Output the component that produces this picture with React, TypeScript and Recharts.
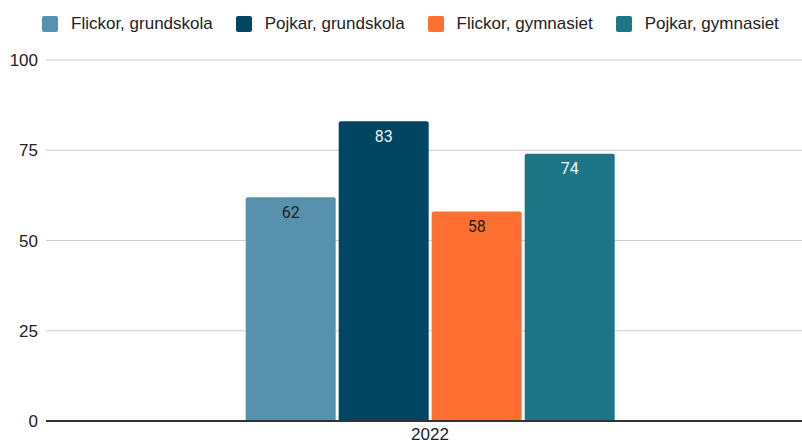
import React from "react";
import { BarChart, Bar, XAxis, YAxis, CartesianGrid, LabelList } from "recharts";

const categories = ["2022"];
const seriesNames = ["Flickor, grundskola", "Pojkar, grundskola", "Flickor, gymnasiet", "Pojkar, gymnasiet"];
const flickorGrundskola = [62];
const pojkarGrundskola = [83];
const flickorGymnasiet = [58];
const pojkarGymnasiet = [74];
const yTicks = [0, 25, 50, 75, 100];

const colors = ["#5891ad", "#004561", "#ff6f31", "#1c7685"];
const labelColors = ["#222222", "#f2f2f2", "#222222", "#f2f2f2"];
const keys = ["fg", "pg", "fy", "py"];

const data = categories.map((c, i) => ({
  cat: c,
  fg: flickorGrundskola[i],
  pg: pojkarGrundskola[i],
  fy: flickorGymnasiet[i],
  py: pojkarGymnasiet[i],
}));

const FONT = "'Liberation Sans', Arial, sans-serif";
const LABEL_FONT = "Roboto, sans-serif";

const makeLabel = (color: string) => (props: any) => {
  const { x, y, width, value } = props;
  return (
    <text
      x={Number(x) + Number(width) / 2}
      y={Number(y) + 15}
      textAnchor="middle"
      dominantBaseline="central"
      fill={color}
      fontSize={16}
      fontFamily={LABEL_FONT}
    >
      {value}
    </text>
  );
};

export default function App() {
  return (
    <div
      style={{
        position: "fixed",
        left: 0,
        top: 0,
        width: 802,
        height: 443,
        overflow: "hidden",
        background: "#fff",
        fontFamily: FONT,
      }}
    >
      <div
        style={{
          position: "absolute",
          top: 14,
          left: 42,
          height: 20,
          display: "flex",
          alignItems: "center",
          fontSize: 17,
          color: "#222",
          whiteSpace: "nowrap",
        }}
      >
        {seriesNames.map((n, i) => (
          <div key={n} style={{ display: "flex", alignItems: "center", marginRight: 23 }}>
            <div style={{ width: 16, height: 16, background: colors[i], borderRadius: 2, marginRight: 13 }} />
            <span>{n}</span>
          </div>
        ))}
      </div>
      <BarChart
        width={814}
        height={443}
        data={data}
        margin={{ top: 60, right: 0, bottom: 0, left: 0 }}
        barCategoryGap="26%"
        barGap={3}
      >
        <CartesianGrid vertical={false} stroke="#cccccc" />
        <XAxis
          dataKey="cat"
          height={22}
          tickLine={false}
          axisLine={{ stroke: "#333", strokeWidth: 2 }}
          tick={{ fill: "#222", fontSize: 17, fontFamily: FONT }}
          tickMargin={1}
        />
        <YAxis
          width={46}
          domain={[0, 100]}
          ticks={yTicks}
          axisLine={false}
          tickLine={false}
          tick={{ fill: "#222", fontSize: 17, fontFamily: FONT }}
        />
        {keys.map((k, i) => (
          <Bar key={k} dataKey={k} name={seriesNames[i]} fill={colors[i]} radius={[2, 2, 0, 0]} isAnimationActive={false}>
            <LabelList dataKey={k} content={makeLabel(labelColors[i])} />
          </Bar>
        ))}
      </BarChart>
    </div>
  );
}
